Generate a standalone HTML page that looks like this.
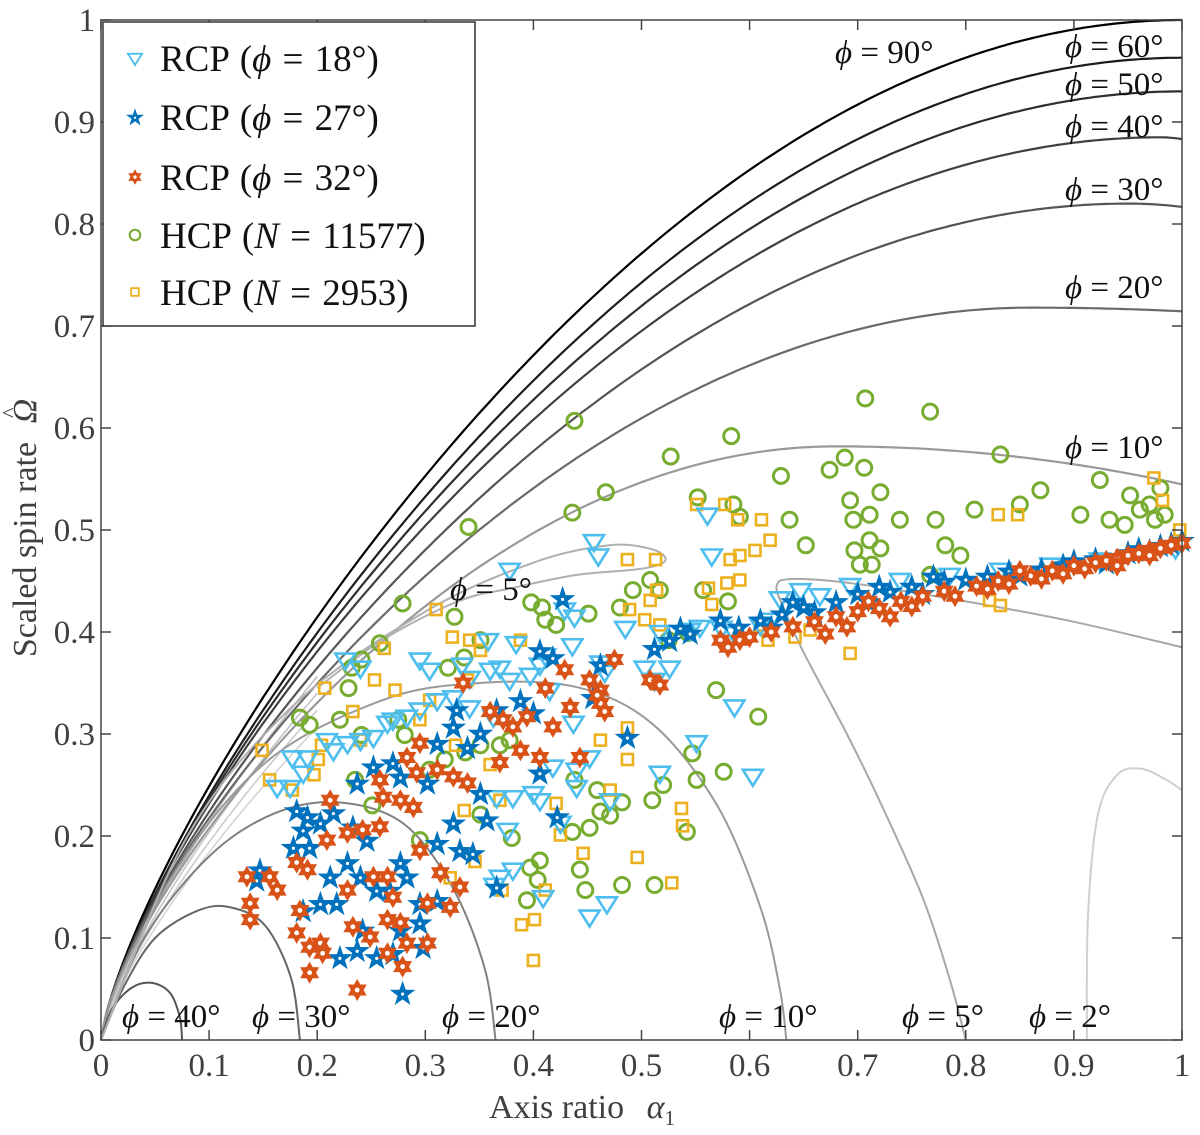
<!DOCTYPE html>
<html><head><meta charset="utf-8">
<style>
html,body{margin:0;padding:0;background:#fff;}
svg{display:block;font-family:"Liberation Serif",serif;}
</style></head>
<body>
<svg id="chart" width="1200" height="1135" viewBox="0 0 1200 1135" xmlns="http://www.w3.org/2000/svg">
<rect x="0" y="0" width="1200" height="1135" fill="#fff"/>
<g id="curves"></g>
<g id="marks"></g>
<g id="axes"></g>
<g id="labels"></g>
<g id="legend"></g>
</svg>
<script>
// ---- data (axis ratio alpha1, scaled spin rate) ----
const triX = [.561,.456,.460,.565,.378,.358,.384,.411,.436,.429,.438,.485,.517,.545,.554,.574,.586,.610,.619,.226,.240,.295,.304,.334,.341,.360,.369,.378,.397,.406,.415,.462,.466,.503,.512,.526,.163,.175,.177,.191,.187,.209,.215,.228,.240,.252,.265,.270,.283,.295,.311,.326,.341,.363,.437,.418,.440,.452,.440,.400,.381,.366,.376,.406,.471,.425,.381,.409,.468,.452,.586,.551,.603,.517,.369,.364,.647,.693,.739,.785,.832,.878,.924,.970,.994,.628,.665];
const triY = [.515,.489,.475,.475,.461,.392,.389,.377,.387,.422,.415,.404,.400,.402,.405,.404,.399,.407,.412,.373,.365,.373,.363,.368,.355,.363,.365,.353,.358,.368,.343,.370,.361,.365,.353,.365,.248,.248,.277,.277,.262,.294,.284,.291,.294,.297,.311,.314,.317,.324,.333,.336,.326,.317,.311,.268,.265,.277,.248,.242,.238,.238,.206,.235,.235,.213,.167,.140,.134,.121,.327,.292,.259,.262,.160,.152,.441,.446,.451,.456,.461,.466,.471,.477,.482,.433,.436];
const starX = [.147,.144,.181,.191,.187,.203,.178,.193,.215,.233,.246,.228,.212,.203,.187,.218,.240,.255,.277,.283,.267,.295,.311,.295,.277,.242,.237,.221,.255,.270,.298,.279,.237,.252,.270,.277,.302,.311,.326,.339,.351,.329,.366,.388,.400,.351,.357,.326,.311,.332,.344,.366,.406,.422,.455,.487,.427,.406,.418,.462,.512,.526,.536,.545,.573,.59,.61,.63,.65,.66,.68,.70,.71,.73,.75,.76,.78,.80,.82,.84,.85,.87,.89,.90,.92,.93,.95,.96,.97,.98,.99,1.0,.77,.72,.64,.62];
const starY = [.167,.157,.225,.219,.206,.213,.189,.189,.223,.209,.196,.174,.160,.134,.127,.134,.160,.147,.174,.160,.147,.134,.137,.115,.108,.108,.088,.081,.081,.085,.091,.046,.252,.268,.272,.258,.252,.291,.307,.287,.301,.324,.324,.333,.321,.242,.216,.213,.193,.186,.183,.150,.262,.219,.336,.297,.433,.382,.375,.368,.384,.392,.404,.399,.412,.405,.412,.418,.425,.42,.43,.438,.43,.44,.445,.438,.45,.452,.455,.46,.456,.462,.466,.47,.472,.468,.478,.482,.48,.485,.487,.49,.455,.445,.43,.405];
const hexX = [.135,.138,.138,.156,.163,.181,.191,.184,.181,.193,.203,.205,.193,.237,.212,.209,.228,.242,.258,.261,.258,.277,.289,.283,.295,.292,.311,.326,.339,.295,.314,.332,.252,.265,.270,.228,.233,.249,.265,.277,.283,.265,.279,.302,.323,.302,.369,.388,.406,.443,.418,.434,.462,.372,.381,.394,.462,.335,.360,.411,.429,.452,.459,.466,.475,.508,.517,.573,.591,.62,.64,.66,.68,.70,.71,.72,.74,.76,.78,.79,.81,.83,.84,.86,.88,.89,.90,.91,.92,.93,.94,.95,.96,.97,.98,.99,1.0,.87,.82,.75,.67,.69,.73,.85,.94,.97,.6,.58];
const hexY = [.160,.134,.118,.160,.147,.174,.167,.127,.105,.091,.095,.085,.066,.049,.235,.196,.203,.206,.209,.238,.255,.235,.228,.277,.291,.262,.265,.258,.252,.186,.164,.150,.160,.160,.140,.147,.111,.101,.118,.115,.095,.085,.072,.095,.130,.134,.272,.284,.277,.277,.307,.326,.330,.314,.307,.317,.343,.350,.322,.345,.363,.353,.338,.322,.373,.353,.348,.392,.392,.40,.405,.41,.415,.42,.43,.423,.43,.435,.44,.435,.445,.45,.447,.455,.46,.457,.465,.462,.468,.47,.472,.475,.477,.48,.482,.485,.487,.452,.442,.425,.398,.405,.415,.46,.465,.475,.395,.385];
const circX = [.438,.583,.707,.767,.527,.340,.436,.467,.629,.674,.688,.706,.721,.552,.591,.637,.585,.652,.279,.232,.229,.258,.241,.321,.336,.351,.327,.398,.408,.411,.421,.451,.480,.492,.508,.517,.525,.543,.557,.580,.569,.576,.608,.551,.547,.520,.510,.542,.512,.482,.448,.443,.452,.471,.482,.436,.406,.397,.404,.394,.380,.351,.438,.459,.462,.241,.235,.251,.295,.304,.318,.337,.351,.369,.378,.184,.193,.221,.275,.281,.693,.696,.697,.711,.711,.702,.739,.772,.781,.808,.832,.869,.906,.924,.933,.952,.961,.970,.975,.980,.984,.947,.850,.721,.713,.767,.795];
const circY = [.607,.592,.629,.616,.572,.503,.517,.537,.553,.559,.571,.561,.537,.532,.513,.510,.525,.485,.428,.365,.345,.389,.373,.365,.375,.392,.415,.429,.424,.412,.407,.418,.424,.441,.451,.441,.392,.399,.441,.430,.343,.263,.317,.255,.281,.250,.235,.204,.152,.152,.147,.167,.208,.220,.233,.204,.176,.169,.157,.137,.198,.221,.255,.245,.224,.299,.255,.230,.196,.265,.275,.282,.289,.289,.294,.316,.309,.314,.314,.299,.529,.510,.480,.515,.490,.466,.510,.510,.485,.520,.574,.539,.515,.549,.510,.534,.520,.525,.510,.541,.515,.505,.525,.482,.466,.456,.475];
const sqX = [.551,.577,.589,.611,.619,.605,.582,.591,.830,.848,.974,.982,.487,.513,.514,.508,.489,.503,.517,.562,.565,.579,.591,.610,.642,.656,.617,.693,.822,.832,.998,.310,.325,.341,.351,.388,.339,.262,.253,.207,.233,.240,.204,.201,.177,.197,.304,.328,.360,.369,.421,.425,.446,.471,.496,.528,.537,.538,.487,.462,.487,.323,.336,.272,.401,.400,.389,.371,.156,.149,.295,.346,.411];
const sqY = [.525,.525,.510,.510,.490,.480,.471,.475,.515,.515,.551,.529,.471,.471,.441,.431,.422,.412,.407,.443,.427,.448,.451,.407,.395,.402,.392,.379,.431,.426,.500,.422,.395,.392,.382,.392,.353,.384,.353,.345,.322,.294,.289,.275,.245,.260,.333,.289,.270,.235,.232,.201,.183,.245,.179,.154,.227,.210,.275,.294,.306,.159,.225,.343,.118,.078,.113,.147,.255,.284,.314,.175,.147];
const xTicks = ["0","0.1","0.2","0.3","0.4","0.5","0.6","0.7","0.8","0.9","1"];
const yTicks = ["0","0.1","0.2","0.3","0.4","0.5","0.6","0.7","0.8","0.9","1"];

const X0=101,X1=1182,Y0=1040,Y1=20;
const sx=v=>X0+v*(X1-X0);
const sy=v=>Y0-v*(Y0-Y1);
const NS="http://www.w3.org/2000/svg";
function mk(tag,attrs,parent){const e=document.createElementNS(NS,tag);for(const k in attrs)e.setAttribute(k,attrs[k]);parent.appendChild(e);return e;}

// ---- contour curves ----
const curves=document.getElementById('curves');
function upper(k,xp,p,d){const pts=[];for(let i=0;i<=200;i++){const x=i/200;let y;if(x<=xp)y=k*Math.pow(Math.sin(Math.PI/2*x/xp),p);else y=k*(1-d*Math.pow((x-xp)/(1-xp),2));pts.push([x,y]);}return pts;}
function ptsPath(pts){return pts.map((q,i)=>(i?'L':'M')+sx(q[0]).toFixed(1)+' '+sy(q[1]).toFixed(1)).join(' ');}
function smooth(pts){let d='M'+sx(pts[0][0])+' '+sy(pts[0][1]);for(let i=0;i<pts.length-1;i++){const p0=pts[Math.max(i-1,0)],p1=pts[i],p2=pts[i+1],p3=pts[Math.min(i+2,pts.length-1)];const c1=[sx(p1[0])+(sx(p2[0])-sx(p0[0]))/6,sy(p1[1])+(sy(p2[1])-sy(p0[1]))/6];const c2=[sx(p2[0])-(sx(p3[0])-sx(p1[0]))/6,sy(p2[1])-(sy(p3[1])-sy(p1[1]))/6];d+=' C'+c1.join(' ')+' '+c2.join(' ')+' '+sx(p2[0])+' '+sy(p2[1]);}return d;}
[[.74,'#d4d4d4'],[.78,'#cccccc'],[.82,'#c4c4c4'],[.86,'#bdbdbd']].forEach(f=>{
  const pts=upper(1,1,.75,0).filter(q=>q[0]<=0.2).map(q=>[q[0],q[1]*f[0]]);
  const e=mk('path',{d:ptsPath(pts),fill:'none',stroke:f[1],'stroke-width':1.6},curves);
  
  
});
const upperDefs=[['90',1,1,.75,0,'#000'],['60',.963,1,.75,0,'#1c1c1c'],['50',.93,1,.74,0,'#2e2e2e'],['40',.885,.98,.73,.002,'#404040'],['30',.82,.95,.72,.004,'#555'],['20',.718,.86,.70,.005,'#6a6a6a'],['10',.582,.68,.70,.064,'#999']];
upperDefs.forEach(u=>{
  const e=mk('path',{d:ptsPath(upper(u[1],u[2],u[3],u[4])),fill:'none',stroke:u[5],'stroke-width':2.2},curves);
  
  
});
const lowerDefs=[
 ['40','#555',[[0,0],[.01,.03],[.028,.051],[.047,.056],[.064,.046],[.073,.022],[.075,0]]],
 ['30','#666',[[0,0],[.02,.05],[.05,.1],[.09,.127],[.12,.13],[.152,.112],[.176,.06],[.184,0]]],
 ['20','#808080',[[0,0],[.04,.1],[.1,.18],[.16,.222],[.22,.233],[.28,.212],[.325,.15],[.355,.07],[.365,0]]],
 ['10','#9a9a9a',[[0,0],[.06,.15],[.15,.27],[.26,.333],[.35,.35],[.44,.346],[.51,.31],[.57,.23],[.61,.13],[.628,.05],[.634,0]]],
 ['5-loop','#b0b0b0',[[0,0],[.08,.2],[.18,.33],[.3,.42],[.4,.468],[.47,.485],[.51,.481],[.522,.47],[.5,.462],[.44,.456],[.38,.443],[.33,.43],[.26,.392],[.2,.345]]],
 ['5','#a8a8a8',[[1,.385],[.9,.41],[.8,.43],[.7,.447],[.64,.452],[.625,.445],[.633,.42],[.65,.38],[.69,.3],[.72,.235],[.76,.14],[.785,.06],[.8,0]]],
 ['2','#cfcfcf',[[.912,0],[.913,.12],[.922,.22],[.94,.26],[.962,.266],[.984,.256],[1,.245]]]
];
lowerDefs.forEach(l=>{
  const e=mk('path',{d:smooth(l[2]),fill:'none',stroke:l[1],'stroke-width':2},curves);
  
  
});

// ---- markers ----
const marks=document.getElementById('marks');
function starPts(cx,cy,R,r,n){let s=[];for(let i=0;i<2*n;i++){const a=-Math.PI/2+i*Math.PI/n;const rr=i%2?r:R;s.push((cx+rr*Math.cos(a)).toFixed(1)+','+(cy+rr*Math.sin(a)).toFixed(1));}return s.join(' ');}
function drawCircle(x,y,g){const e=mk('circle',{cx:sx(x),cy:sy(y),r:7.5,fill:'none',stroke:'#77AC30','stroke-width':3},g);}
function drawSquare(x,y,g){const e=mk('rect',{x:sx(x)-5.5,y:sy(y)-5.5,width:11,height:11,fill:'none',stroke:'#EDB120','stroke-width':2.6},g);}
function drawTri(x,y,g){const cx=sx(x),cy=sy(y);const e=mk('polygon',{points:(cx-10)+','+(cy-6)+' '+(cx+10)+','+(cy-6)+' '+cx+','+(cy+10),fill:'none',stroke:'#4DBEEE','stroke-width':2.6,'stroke-linejoin':'miter'},g);}
function drawStar(x,y,g){const cx=sx(x),cy=sy(y);const e=mk('polygon',{points:starPts(cx,cy+1,13.5,5.3,5),fill:'#0072BD'},g);mk('circle',{cx:cx,cy:cy+1,r:1.6,fill:'#fff'},g);}
function drawHex(x,y,g){const cx=sx(x),cy=sy(y);const e=mk('polygon',{points:starPts(cx,cy,11,6.4,6),fill:'#D95319'},g);mk('circle',{cx:cx,cy:cy,r:2.4,fill:'#fff'},g);}
const series=[[circX,circY,drawCircle,'series-hcp-11577'],[sqX,sqY,drawSquare,'series-hcp-2953'],[triX,triY,drawTri,'series-rcp-18'],[starX,starY,drawStar,'series-rcp-27'],[hexX,hexY,drawHex,'series-rcp-32']];
series.forEach(s=>{
  const g=mk('g',{},marks);
  
  
  s[0].forEach((x,i)=>s[2](x,s[1][i],g));
});

// ---- axes ----
const axes=document.getElementById('axes');
mk('rect',{x:X0,y:Y1,width:X1-X0,height:Y0-Y1,fill:'none',stroke:'#444','stroke-width':1.5},axes);
xTicks.forEach((t,i)=>{const v=i/10,x=sx(v);
  mk('line',{x1:x,y1:Y0,x2:x,y2:Y0-10,stroke:'#444','stroke-width':1.5},axes);
  mk('line',{x1:x,y1:Y1,x2:x,y2:Y1+10,stroke:'#444','stroke-width':1.5},axes);
  const e=mk('text',{x:x,y:Y0+36,'text-anchor':'middle','font-size':33,fill:'#404040'},axes);e.textContent=t;
  });
yTicks.forEach((t,i)=>{const v=i/10,y=sy(v);
  mk('line',{x1:X0,y1:y,x2:X0+10,y2:y,stroke:'#444','stroke-width':1.5},axes);
  mk('line',{x1:X1,y1:y,x2:X1-10,y2:y,stroke:'#444','stroke-width':1.5},axes);
  const e=mk('text',{x:X0-6,y:y+11,'text-anchor':'end','font-size':33,fill:'#404040'},axes);e.textContent=t;
  });
let xt=mk('text',{x:582,y:1118,'text-anchor':'middle','font-size':34,fill:'#404040'},axes);

xt.innerHTML='Axis ratio <tspan dx="14" font-style="italic">α</tspan><tspan font-size="21" dy="7">1</tspan>';
let yt=mk('text',{x:0,y:0,'text-anchor':'middle','font-size':34,fill:'#404040',transform:'translate(36,528) rotate(-90)'},axes);

yt.innerHTML='Scaled spin rate <tspan dx="10" font-style="italic">Ω</tspan><tspan font-size="22" dx="-19" dy="-19">^</tspan>';

// ---- contour labels ----
const labels=document.getElementById('labels');
const labs=[['90°',835,63],['60°',1065,57],['50°',1065,95],['40°',1065,137],['30°',1065,200],['20°',1065,298],['10°',1065,458],['5°',450,600],['40°',122,1027],['30°',252,1027],['20°',442,1027],['10°',719,1027],['5°',902,1027],['2°',1029,1027]];
labs.forEach(l=>{const e=mk('text',{x:l[1],y:l[2],'font-size':33,fill:'#111'},labels);
  
  e.innerHTML='<tspan font-style="italic">ϕ</tspan> = '+l[0];});

// ---- legend ----
const lg=document.getElementById('legend');
mk('rect',{x:103,y:22,width:372,height:304,fill:'#fff',stroke:'#333','stroke-width':1.5},lg);
const lgItems=[[drawTri,'RCP (','ϕ',' = 18°)',58,'legend-entry-rcp-18'],[drawStar,'RCP (','ϕ',' = 27°)',117,'legend-entry-rcp-27'],[drawHex,'RCP (','ϕ',' = 32°)',177,'legend-entry-rcp-32'],[drawCircle,'HCP (','N',' = 11577)',235,'legend-entry-hcp-11577'],[drawSquare,'HCP (','N',' = 2953)',292,'legend-entry-hcp-2953']];
lgItems.forEach(it=>{
  const g=mk('g',{},lg);
  
  
  const cx=135, cy=it[4];
  const mg=mk('g',{transform:'translate('+cx+','+cy+') scale(0.7) translate('+(-cx)+','+(-cy)+')'},g);
  
  
  it[0]((cx-X0)/(X1-X0),(Y0-cy)/(Y0-Y1),mg);
  const t=mk('text',{x:160,y:it[4]+13,'font-size':37,fill:'#111','word-spacing':'2'},g);
  
  
  t.innerHTML=it[1]+'<tspan font-style="italic">'+it[2]+'</tspan>'+it[3];
});
</script>
</body></html>
